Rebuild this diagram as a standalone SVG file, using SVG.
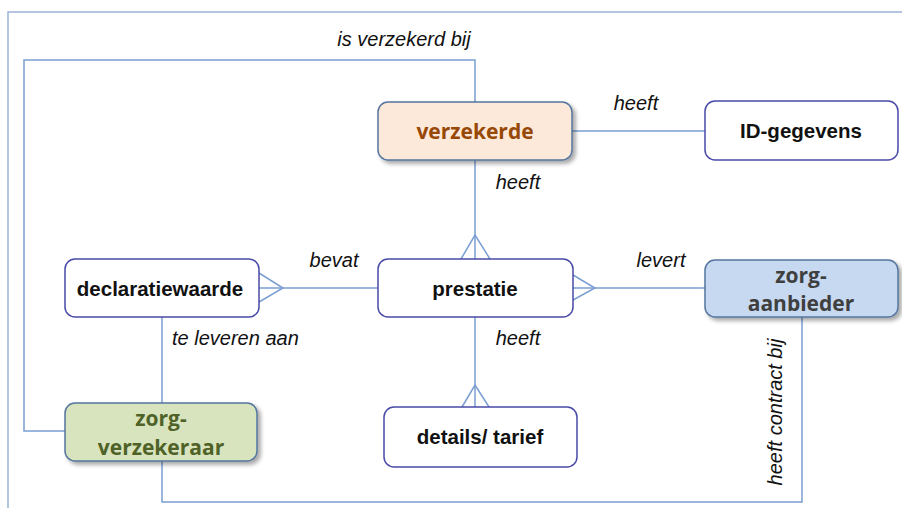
<svg xmlns="http://www.w3.org/2000/svg" width="902" height="508" viewBox="0 0 902 508">
<style>
.frame{fill:none;stroke:#9bb3d6;stroke-width:1.5}
.conn{fill:none;stroke:#7b9fd2;stroke-width:1.5}
.plain{fill:#ffffff;stroke:#4a4aa8;stroke-width:1.5}
.col{stroke:#56759f;stroke-width:1.5}
.t{font-family:"Liberation Sans",Arial,sans-serif;font-weight:bold;font-size:20.5px;fill:#111;text-anchor:middle}
.c{font-family:"Open Sans","Noto Sans",sans-serif;font-weight:bold;font-size:21px;text-anchor:middle}
.lbl{font-family:"Liberation Sans",Arial,sans-serif;font-style:italic;font-size:20px;fill:#111}
</style>
<defs>
<filter id="sh" x="-10%" y="-20%" width="130%" height="150%">
<feDropShadow dx="3" dy="3" stdDeviation="2" flood-color="#000" flood-opacity="0.35"/>
</filter>
</defs>
<rect class="frame" x="8" y="12" width="900" height="510"/>
<g id="connectors">
<polyline class="conn" points="475,102 475,60 24,60 24,431 65,431"/>
<line class="conn" x1="572" y1="131" x2="705" y2="131"/>
<line class="conn" x1="475" y1="160" x2="475" y2="259"/>
<polyline class="conn" points="461,259 475,235 490,259"/>
<line class="conn" x1="259" y1="288" x2="378" y2="288"/>
<polyline class="conn" points="259,273 283,288 259,302"/>
<line class="conn" x1="573" y1="288" x2="705" y2="288"/>
<polyline class="conn" points="573,275 595,288 573,300"/>
<line class="conn" x1="475" y1="317" x2="475" y2="407"/>
<polyline class="conn" points="462,407 475,385 489,407"/>
<line class="conn" x1="162" y1="317" x2="162" y2="403"/>
<polyline class="conn" points="162,461 162,502 802,502 802,317"/>
<text class="lbl" x="404" y="46" text-anchor="middle">is verzekerd bij</text>
<text class="lbl" x="636" y="110" text-anchor="middle">heeft</text>
<text class="lbl" x="518" y="189" text-anchor="middle">heeft</text>
<text class="lbl" x="334" y="267" text-anchor="middle">bevat</text>
<text class="lbl" x="661" y="267" text-anchor="middle">levert</text>
<text class="lbl" x="518" y="345" text-anchor="middle">heeft</text>
<text class="lbl" x="172" y="345">te leveren aan</text>
<text class="lbl" x="0" y="0" text-anchor="middle" transform="translate(782,412) rotate(-90)">heeft contract bij</text>
</g>
<g id="verzekerde">
<rect class="col" x="378" y="102" width="194" height="58" rx="10" fill="#fde9d9" filter="url(#sh)"/>
<text class="c" x="475" y="139" fill="#974806">verzekerde</text>
</g>
<g id="id-gegevens">
<rect class="plain" x="705" y="101" width="193" height="59" rx="10"/>
<text class="t" x="801" y="138">ID-gegevens</text>
</g>
<g id="declaratiewaarde">
<rect class="plain" x="65" y="259" width="194" height="58" rx="10"/>
<text class="t" x="160" y="296">declaratiewaarde</text>
</g>
<g id="prestatie">
<rect class="plain" x="378" y="259" width="195" height="58" rx="10"/>
<text class="t" x="475" y="296">prestatie</text>
</g>
<g id="zorgaanbieder">
<rect class="col" x="705" y="260" width="193" height="57" rx="10" fill="#c6d9f1" filter="url(#sh)"/>
<text class="c" x="801" y="283" fill="#3f3f3f">zorg-</text>
<text class="c" x="801" y="311" fill="#3f3f3f">aanbieder</text>
</g>
<g id="details-tarief">
<rect class="plain" x="384" y="407" width="193" height="60" rx="10"/>
<text class="t" x="480" y="444">details/ tarief</text>
</g>
<g id="zorgverzekeraar">
<rect class="col" x="65" y="403" width="192" height="58" rx="10" fill="#d7e4bd" filter="url(#sh)"/>
<text class="c" x="161" y="426" fill="#4f6228">zorg-</text>
<text class="c" x="161" y="455" fill="#4f6228">verzekeraar</text>
</g>
</svg>
